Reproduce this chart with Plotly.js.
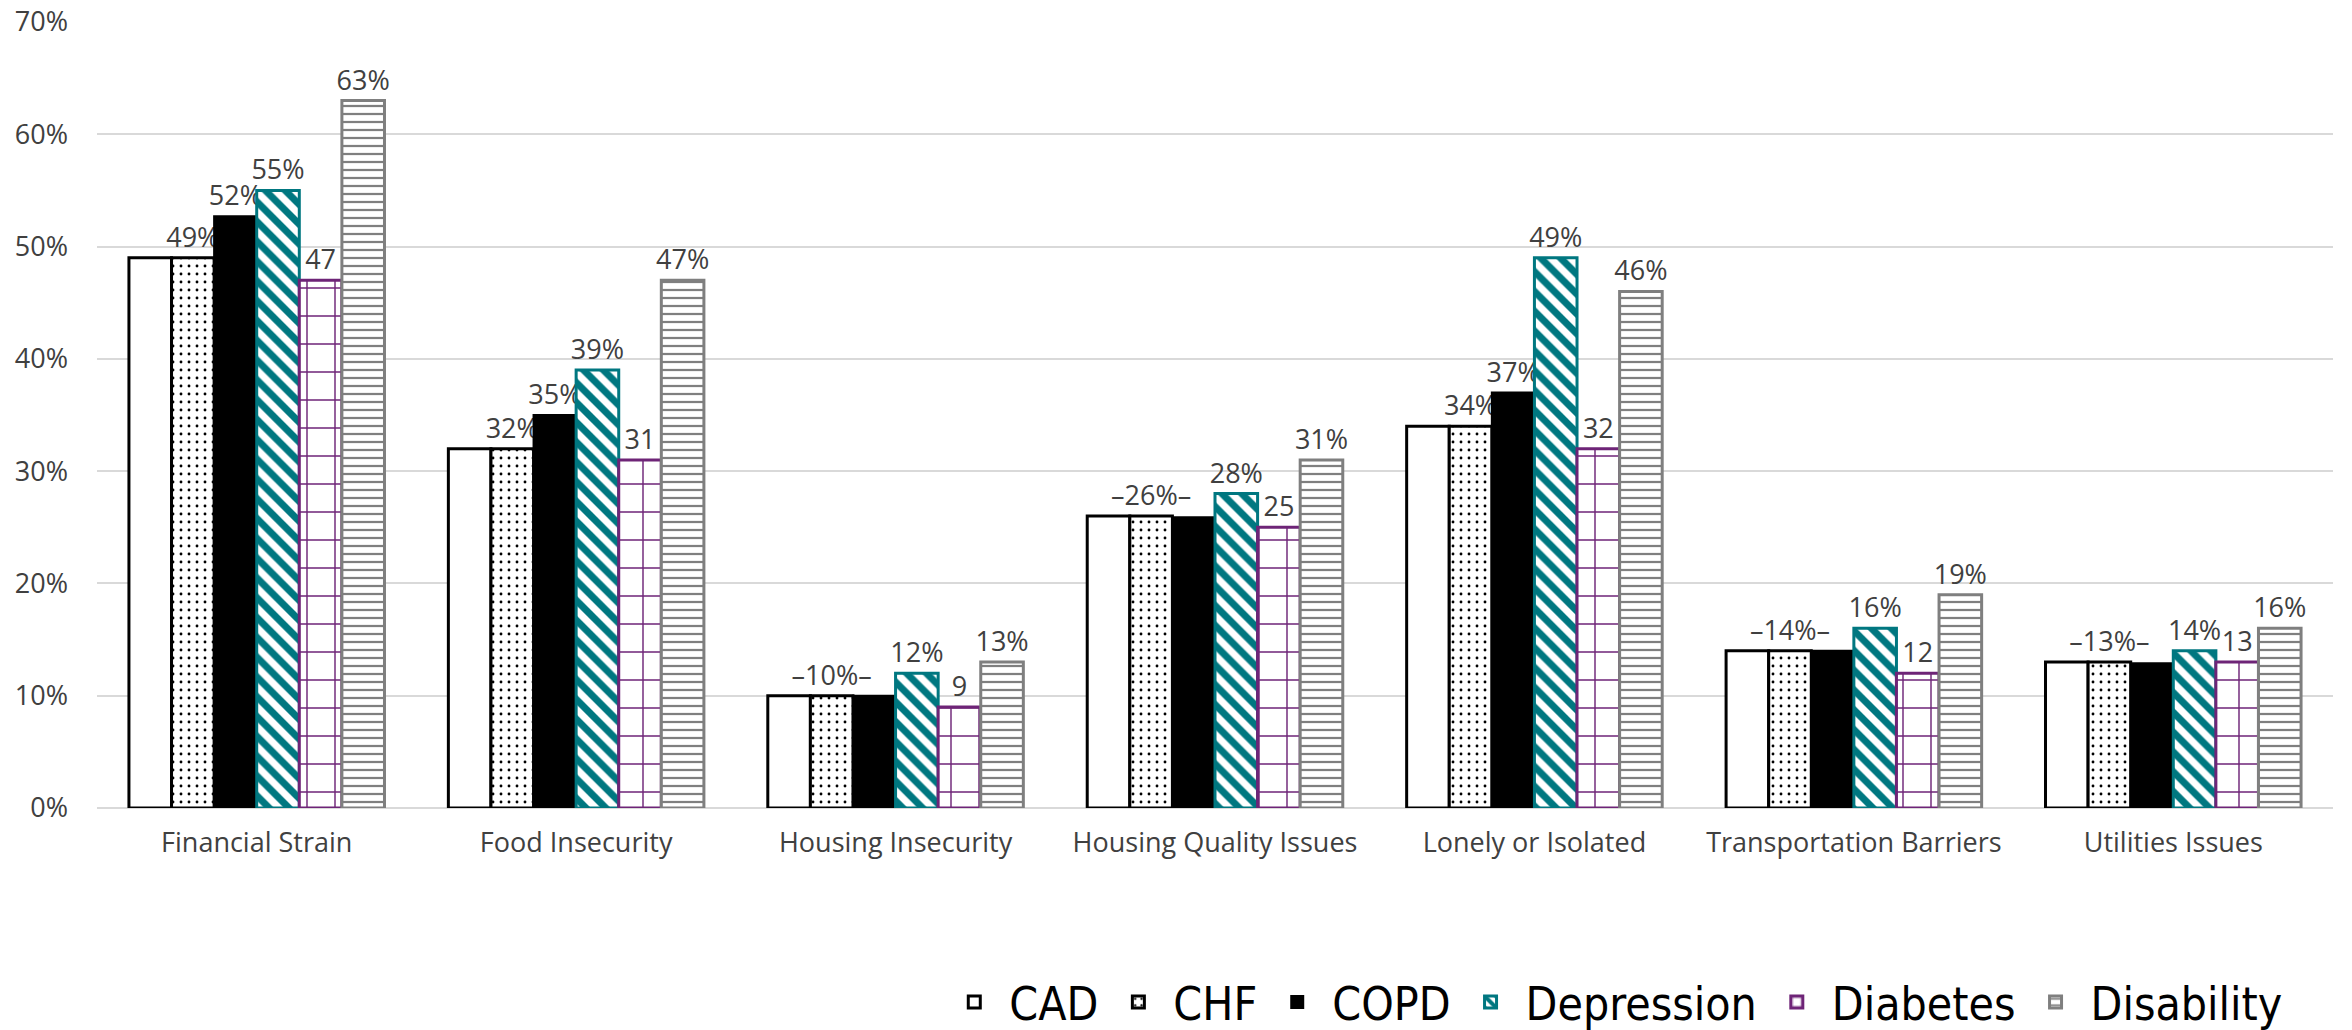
<!DOCTYPE html>
<html>
<head>
<meta charset="utf-8">
<script src="https://cdn.plot.ly/plotly-3.0.1.min.js"></script>
<style>html,body{margin:0;padding:0;background:#fff;}</style>
</head>
<body>
<div id="chart" style="width:2352px;height:1030px;"></div>
<script>
const categories = ["Financial Strain", "Food Insecurity", "Housing Insecurity", "Housing Quality Issues", "Lonely or Isolated", "Transportation Barriers", "Utilities Issues"];

const cad        = [49, 32, 10, 26, 34, 14, 13];
const chf        = [49, 32, 10, 26, 34, 14, 13];
const copd       = [52.7, 35, 10, 25.9, 37, 14, 12.9];
const depression = [55, 39, 12, 28, 49, 16, 14];
const diabetes   = [47, 31, 9, 25, 32, 12, 13];
const disability = [63, 47, 13, 31, 46, 19, 16];

const cadLabels        = ["", "", "", "", "", "", ""];
const chfLabels        = ["49%", "32%", "\u201310%\u2013", "\u201326%\u2013", "34%", "\u201314%\u2013", "\u201313%\u2013"];
const copdLabels       = ["52%", "35%", "", "", "37%", "", ""];
const depressionLabels = ["55%", "39%", "12%", "28%", "49%", "16%", "14%"];
const diabetesLabels   = ["47", "31", "9", "25", "32", "12", "13"];
const disabilityLabels = ["63%", "47%", "13%", "31%", "46%", "19%", "16%"];

const labelFont = {family: "Open Sans, sans-serif", size: 27, color: "#404040"};

function bar(name, y, labels, lineColor, lineWidth, pattern, fill) {
  const marker = {color: fill, line: {color: lineColor, width: lineWidth}};
  if (pattern) marker.pattern = pattern;
  return {
    type: "bar", name: name, x: categories, y: y,
    text: labels, textposition: "outside", textfont: labelFont,
    constraintext: "none", textangle: 0,
    cliponaxis: false, marker: marker, hoverinfo: "name+y"
  };
}

const data = [
  bar("CAD", cad, cadLabels, "#000000", 3, null, "#ffffff"),
  bar("CHF", chf, chfLabels, "#000000", 3,
      {shape: ".", fgcolor: "#000000", bgcolor: "#ffffff", fgopacity: 1, size: 8, solidity: 0.1, fillmode: "overlay"}, "#ffffff"),
  bar("COPD", copd, copdLabels, "#000000", 2, null, "#000000"),
  bar("Depression", depression, depressionLabels, "#007780", 3,
      {shape: "\\", fgcolor: "#007780", bgcolor: "#ffffff", fgopacity: 1, size: 14, solidity: 0.5, fillmode: "overlay"}, "#ffffff"),
  bar("Diabetes", diabetes, diabetesLabels, "#6e2477", 3,
      {shape: "+", fgcolor: "#6e2477", bgcolor: "#ffffff", fgopacity: 1, size: 28, solidity: 0.1, fillmode: "overlay"}, "#ffffff"),
  bar("Disability", disability, disabilityLabels, "#7f7f7f", 3,
      {shape: "-", fgcolor: "#7f7f7f", bgcolor: "#ffffff", fgopacity: 1, size: 8, solidity: 0.28, fillmode: "overlay"}, "#ffffff")
];

const layout = {
  width: 2352, height: 1030,
  margin: {l: 97, r: 19, t: 22, b: 222, autoexpand: false},
  paper_bgcolor: "#ffffff", plot_bgcolor: "#ffffff",
  barmode: "group", bargap: 0.2, bargroupgap: 0,
  font: {family: "Open Sans, sans-serif", color: "#404040"},
  showlegend: true,
  legend: {
    orientation: "h", x: 0.98, xanchor: "right", y: -0.247, yanchor: "middle",
    font: {family: "DejaVu Sans Condensed, Liberation Sans Narrow, Open Sans, sans-serif", size: 46, color: "#000000"},
    traceorder: "normal", itemwidth: 60
  },
  xaxis: {
    type: "category", showgrid: false, showline: false, zeroline: false,
    ticks: "", tickfont: {family: "Open Sans, sans-serif", size: 27, color: "#404040"},
    ticklabelstandoff: 16
  },
  yaxis: {
    range: [0, 70], dtick: 10, ticksuffix: "%",
    showgrid: true, gridcolor: "#d9d9d9", gridwidth: 2,
    zeroline: true, zerolinecolor: "#d9d9d9", zerolinewidth: 2,
    showline: false, ticks: "",
    tickfont: {family: "Open Sans, sans-serif", size: 27, color: "#404040"},
    ticklabelstandoff: 28
  }
};

Plotly.newPlot("chart", data, layout, {displayModeBar: false, staticPlot: true});
</script>
</body>
</html>
